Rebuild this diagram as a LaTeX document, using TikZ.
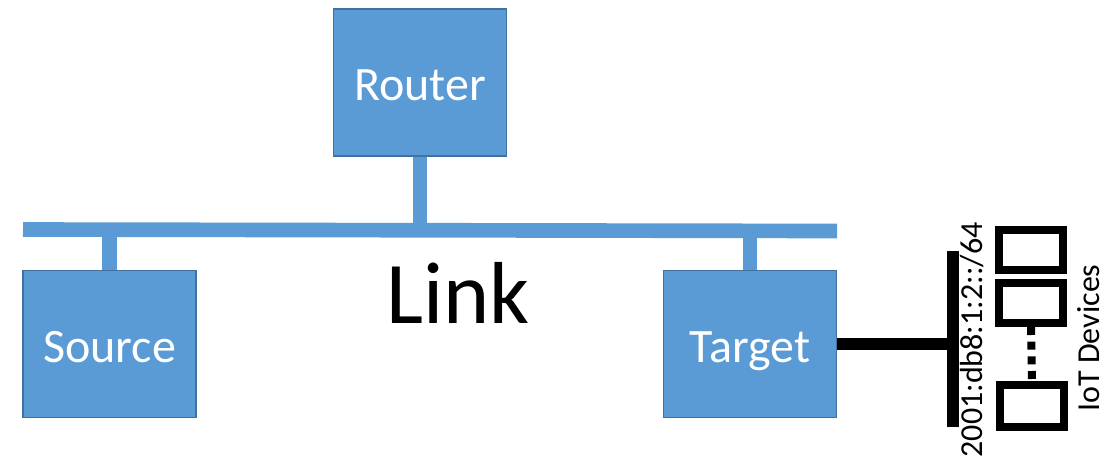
\documentclass[tikz,border=0pt]{standalone}
\usepackage{fontspec}
\setmainfont{Carlito}
\definecolor{boxblue}{HTML}{5B9BD5}
\definecolor{boxedge}{HTML}{41719C}
\begin{document}
\begin{tikzpicture}[x=0.75pt,y=-0.75pt,
		hostbox/.style={draw=boxedge,fill=boxblue,line width=1.2pt,minimum width=130pt,minimum height=110pt,text height=27pt,text depth=0pt,text=white,font=\fontsize{36}{40}\selectfont},
		iotbox/.style={draw,line width=6pt,minimum width=48pt,inner sep=0pt},
		wire/.style={boxblue,line width=11pt},
		blackwire/.style={line width=9.5pt}]
		\useasboundingbox (0,0) rectangle (1116,458) ;
		\node[hostbox] (router) at (420,82.5) {Router} ;
		\node[hostbox] (source) at (109.5,344) {Source} ;
		\node[hostbox] (target) at (750,344) {Target} ;
		\coordinate (linkW) at (23,229.5) ; \coordinate (linkE) at (837,231) ;
		\draw[wire] (linkW) -- (linkE) ;
		\draw[wire] (router.south) -- (router.south |- linkW) (source.north) -- (source.north |- linkW) (target.north) -- (target.north |- linkE) ;
		\node[font=\fontsize{66}{70}\selectfont] (link) at (458,293) {Link} ;
		% subnet behind the target
		\coordinate (subN) at (953,251) ; \coordinate (subS) at (953,427) ;
		\draw[blackwire] (subN) -- (subS) ;
		\draw[blackwire] (target.east) -- (target.east -| subN) ;
		\node[rotate=90,font=\fontsize{24}{28}\selectfont] (prefix) at (972,340) {2001:db8:1:2::/64} ;
		\node[iotbox,minimum height=30pt] (dev1) at (1031,250) {} ;
		\node[iotbox,minimum height=30pt] (dev2) at (1031,303) {} ;
		\node[iotbox,minimum height=31.5pt] (dev3) at (1032,406) {} ;
		\draw[line width=6pt,dash pattern=on 6pt off 5pt] (dev2.south) -- (dev3.north) ;
		\node[rotate=90,font=\fontsize{24}{28}\selectfont] (iot) at (1089,338) {IoT Devices} ;
	\end{tikzpicture}
\end{document}
